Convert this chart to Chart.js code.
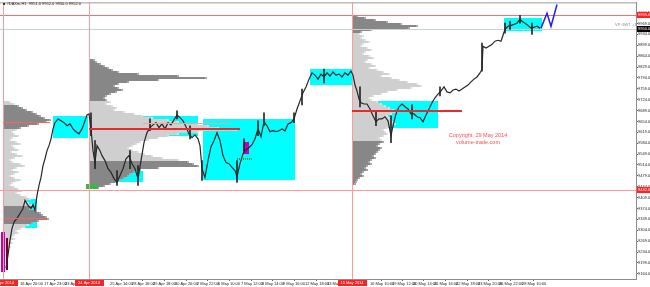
<!DOCTYPE html>
<html>
<head>
<meta charset="utf-8">
<script src="https://cdn.jsdelivr.net/npm/chart.js@4.4.0/dist/chart.umd.min.js"></script>
<style>
    html, body { margin: 0; padding: 0; background: #fff; overflow: hidden; }
    canvas { display: block; }
</style>
</head>
<body>
<canvas id="DaxChart" width="650" height="287"></canvas>
<script>
// #DAXm H1 - x is the bar slot, y is the price
var barX = [3, 5, 7, 9, 11, 14, 17, 20, 22, 25, 28, 30, 32, 34, 36, 38, 40, 42, 44, 46, 48, 50, 52, 55, 58, 61, 64, 67, 70, 73, 76, 79, 82, 84, 86,
    88, 90, 92, 94, 97, 99, 102, 105, 108, 111, 114, 117, 120, 123, 126, 129, 132, 135, 138, 141, 144, 147, 150, 153, 156, 159, 162, 165, 168, 171, 174, 177, 180, 183, 186, 189, 192, 195, 197,
    199, 202, 205, 208, 211, 214, 217, 220, 223, 226, 229, 232, 234, 237, 240, 243, 246, 249, 252, 255, 258, 261, 264, 267, 270, 273, 276, 279, 282, 285, 288, 291, 294, 297,
    300, 303, 306, 309, 312, 315, 318, 321, 324, 327, 330, 333, 336, 339, 342, 345, 348, 350, 352, 354, 356, 358, 361, 364, 367, 370, 373, 376, 379, 382, 385, 388, 390, 393, 396, 399,
    402, 405, 408, 411, 414, 417, 420, 423, 426, 429, 432, 435, 438, 441, 444, 447, 450, 453, 456, 459, 462, 465, 468, 471, 474, 477, 479, 480, 483, 486, 489, 492, 495, 498, 500,
    502, 505, 508, 511, 514, 517, 519, 522, 525, 528, 531, 534, 537];
var barClose = [9182, 9224, 9272, 9310, 9330, 9342, 9358, 9374, 9400, 9384, 9374, 9387, 9368, 9416, 9448, 9474, 9512, 9534, 9560, 9576, 9598, 9630, 9650, 9662, 9656, 9650, 9640, 9646, 9630, 9621, 9614, 9630, 9656, 9675, 9678,
    9630, 9560, 9522, 9576, 9560, 9544, 9528, 9502, 9490, 9470, 9458, 9480, 9502, 9534, 9544, 9518, 9502, 9470, 9528, 9586, 9618, 9634, 9643, 9650, 9634, 9646, 9630, 9650, 9643, 9659, 9675, 9666, 9656, 9637, 9614, 9602, 9611, 9598, 9576,
    9502, 9474, 9528, 9573, 9592, 9618, 9592, 9544, 9522, 9518, 9506, 9496, 9477, 9518, 9550, 9563, 9570, 9579, 9598, 9630, 9605, 9653, 9640, 9621, 9624, 9621, 9624, 9630, 9624, 9646, 9650, 9662, 9694, 9720,
    9746, 9765, 9790, 9810, 9803, 9790, 9806, 9797, 9810, 9800, 9813, 9803, 9806, 9797, 9810, 9803, 9816, 9803, 9771, 9752, 9726, 9714, 9710, 9710, 9694, 9672, 9653, 9662, 9662, 9669, 9656, 9608, 9640, 9678, 9701, 9710,
    9701, 9694, 9678, 9678, 9669, 9666, 9653, 9675, 9694, 9714, 9730, 9742, 9752, 9765, 9749, 9746, 9755, 9758, 9752, 9758, 9765, 9771, 9781, 9790, 9797, 9810, 9822, 9896, 9890, 9896, 9902, 9912, 9915, 9912, 9931,
    9950, 9960, 9963, 9966, 9970, 9982, 9976, 9970, 9963, 9954, 9957, 9960, 9954];

// long shadows
var wickX = [88, 92, 114, 127, 135, 147, 174, 187, 199, 234, 241, 255, 261, 291, 299, 321, 357, 373, 388, 409, 437, 479, 502, 507, 517, 529];
var wickLow = [9608, 9502, 9448, 9502, 9448, 9624, 9662, 9598, 9464, 9458, 9560, 9608, 9640, 9650, 9707, 9778, 9701, 9640, 9586, 9662, 9736, 9816, 9938, 9950, 9970, 9934];
var wickHigh = [9682, 9592, 9496, 9560, 9512, 9662, 9688, 9640, 9528, 9528, 9598, 9656, 9682, 9682, 9758, 9822, 9765, 9688, 9672, 9707, 9765, 9906, 9970, 9976, 9995, 9970];

// projection drawn by hand
var projX = [538, 544, 548, 554];
var projY = [9954, 10002, 9960, 10030];

// balance zones
var zoneFrom = [0, 50, 140, 112, 200, 307, 349, 501];
var zoneTo = [34, 85, 195, 140, 292, 357, 435, 539];
var zoneHigh = [9406, 9672, 9672, 9496, 9662, 9822, 9720, 9986];
var zoneLow = [9310, 9602, 9608, 9458, 9467, 9771, 9634, 9944];

// volume profiles, one value per 6.4 points from the top price down
var profStart = [0, 86, 349];
var profTop = [9720, 9854, 9995];
var profStep = 6.4;
var prof1Vol = [8, 12, 16, 20, 24, 30, 34, 38, 42, 48, 44, 36, 26, 18, 14, 10, 12, 16, 10, 8, 14, 18, 10, 12, 16, 9, 14, 20, 12, 8,
    10, 18, 22, 14, 10, 16, 12, 8, 12, 18, 14, 10, 8, 12, 16, 20, 14, 18, 24, 28, 22, 26, 30, 32, 28, 34, 38, 40, 44, 46,
    36, 30, 26, 22, 18, 14, 16, 12, 10, 12, 8, 10, 6, 8, 5, 4];
var prof2Vol = [6, 8, 12, 16, 20, 24, 30, 50, 90, 118, 70, 40, 30, 26, 30, 34, 28, 22, 18, 16, 18,
    22, 18, 24, 28, 26, 36, 46, 54, 64, 80, 90, 110, 120, 130, 148, 110, 90, 80, 70, 60, 52, 48, 44, 40, 44, 50, 56, 64, 74, 90,
    100, 105, 110, 70, 52, 46, 42, 40, 36, 32, 28, 22, 16, 10];
var prof3Vol = [6, 14, 24, 36, 50, 66, 58, 20, 10,
    8, 12, 10, 14, 18, 12, 10, 16, 20, 14, 12, 18, 22, 16, 14, 20, 24, 18,
    26, 32, 38, 30, 40, 48, 56, 66, 70, 60, 46, 36, 30, 22, 18,
    20, 26, 30, 34, 38, 42, 46, 40, 36,
    38, 40, 42, 44, 40, 36, 32, 34, 36, 32, 28, 30, 32, 28, 26, 30, 28, 26, 24, 22, 24, 20, 18, 20, 16, 14, 16, 12, 10, 12, 8, 6, 5, 4];
var profDark = [[[2, 13], [53, 61]], [[0, 20], [51, 64]], [[0, 8], [63, 84]]];

// levels and session lines
var levelPrices = [9995, 9950, 9432];
var levelLabels = ['9995.0', '9950.0', '9432.0'];
var sessionX = [0, 86, 349];
var sessionLabels = ['15 Apr 2014', '24 Apr 2014', '15 May 2014'];
var pocPrice = [9630, 9688, 9653, 9342, 9650];
var pocFrom = [86, 349, 0, 2, 140];
var pocTo = [237, 459, 47, 45, 227];

// axis ticks
var xTickPos = [17, 41, 62, 107, 129, 150, 172, 194, 215, 238, 259, 280, 302, 324, 367, 389, 410, 431, 453, 475, 496, 519];
var xTickLabels = ['16 Apr 20:00', '17 Apr 23:00', '23 Apr 01:00', '25 Apr 14:00', '28 Apr 16:00', '29 Apr 18:00', '30 Apr 20:00',
    '2 May 22:00', '6 May 10:00', '7 May 12:00', '8 May 14:00', '9 May 16:00', '12 May 18:00', '13 May 20:00', '16 May 10:00',
    '19 May 12:00', '20 May 14:00', '21 May 16:00', '22 May 18:00', '23 May 20:00', '26 May 22:00', '28 May 10:00'];
var yTickValues = [10004, 9969, 9934, 9899, 9864, 9829, 9794, 9759, 9724, 9689, 9654, 9619, 9584, 9549, 9514, 9479, 9444,
    9409, 9374, 9339, 9304, 9269, 9234, 9199, 9164];

var tinyFont = 'Liberation Sans';

function box(c, xs, ys, x0, x1, hi, lo, color) {
    var l = Math.round(xs.getPixelForValue(x0));
    var r = Math.round(xs.getPixelForValue(x1));
    var t = Math.round(ys.getPixelForValue(hi));
    var b = Math.round(ys.getPixelForValue(lo));
    c.fillStyle = color;
    c.fillRect(l, t, r - l, b - t);
}

function hLine(c, xs, ys, price, x0, x1, color, width) {
    var y = Math.round(ys.getPixelForValue(price)) + (width % 2 ? 0.5 : 0);
    c.strokeStyle = color;
    c.lineWidth = width;
    c.beginPath();
    c.moveTo(xs.getPixelForValue(x0), y);
    c.lineTo(xs.getPixelForValue(x1), y);
    c.stroke();
}

var overlay = {
    id: 'overlay',
    beforeDatasetsDraw: function (chart) {
        var c = chart.ctx, xs = chart.scales.x, ys = chart.scales.y, a = chart.chartArea;
        c.save();
        c.beginPath();
        c.rect(a.left, a.top, a.right - a.left, a.bottom - a.top);
        c.clip();

        for (var i = 0; i < zoneFrom.length; i++) {
            box(c, xs, ys, zoneFrom[i], zoneTo[i], zoneHigh[i], zoneLow[i], '#00ffff');
        }

        //profiles
        var profs = [prof1Vol, prof2Vol, prof3Vol];
        profs.forEach(function (vols, p) {
            vols.forEach(function (v, k) {
                var dark = profDark[p].some(function (r) { return k >= r[0] && k <= r[1]; });
                var hi = profTop[p] - k * profStep;
                var l = Math.round(xs.getPixelForValue(profStart[p]));
                var r = Math.round(xs.getPixelForValue(profStart[p] + v));
                var t = Math.round(ys.getPixelForValue(hi));
                c.fillStyle = dark ? '#878787' : '#cfcfcf';
                c.fillRect(l, t, r - l, 2);
                // lighter tip
                c.fillStyle = dark ? '#a8a8a8' : '#e0e0e0';
                c.fillRect(r - 2, t, 2, 2);
            });
        });

        // markers
        box(c, xs, ys, -2, 2, 9298, 9170, '#c000c0');
        box(c, xs, ys, 3, 5, 9278, 9176, '#7a0018');
        box(c, xs, ys, 83, 95, 9454, 9438, '#3cb44b');
        box(c, xs, ys, 240, 246, 9589, 9550, '#c000c0');
        c.setLineDash([1, 1]);
        hLine(c, xs, ys, 9534, 234, 250, '#2e8b3a', 2);
        c.setLineDash([]);

        // levels
        var levelColors = ['#ff6a6a', '#cfcfcf', '#ff9a9a'];
        levelPrices.forEach(function (p, i) {
            hLine(c, xs, ys, p, xs.min, xs.max, levelColors[i], 1);
        });
        c.strokeStyle = '#ff9a9a';
        c.lineWidth = 1;
        sessionX.forEach(function (x) {
            var px = Math.round(xs.getPixelForValue(x)) + 0.5;
            c.beginPath();
            c.moveTo(px, a.top);
            c.lineTo(px, a.bottom);
            c.stroke();
        });
        c.restore();
    },
    afterDatasetsDraw: function (chart) {
        var c = chart.ctx, xs = chart.scales.x, ys = chart.scales.y, a = chart.chartArea;
        c.save();
        var pocColors = ['#e52b2b', '#e52b2b', '#ff6060', '#ff6060', '#f2a0a0'];
        var pocWidths = [2, 2, 1, 1, 1];
        pocPrice.forEach(function (p, i) {
            hLine(c, xs, ys, p, pocFrom[i], pocTo[i], pocColors[i], pocWidths[i]);
        });
        // top frame
        c.strokeStyle = '#9a9a9a';
        c.lineWidth = 1;
        c.beginPath();
        c.moveTo(a.left, a.top + 0.5);
        c.lineTo(a.right, a.top + 0.5);
        c.stroke();
        c.restore();
    },
    afterDraw: function (chart) {
        var c = chart.ctx, xs = chart.scales.x, ys = chart.scales.y, a = chart.chartArea;
        c.save();
        c.textBaseline = 'middle';

        // price tags on the right scale
        var tagColors = ['#ff2020', '#000000', '#ff2020'];
        levelPrices.forEach(function (p, i) {
            var y = Math.round(ys.getPixelForValue(p));
            c.fillStyle = tagColors[i];
            c.fillRect(a.right + 1, y - 3, 14, 6);
            c.fillStyle = '#fff';
            c.font = '4px ' + tinyFont;
            c.textAlign = 'left';
            c.fillText(levelLabels[i], a.right + 2, y);
        });

        // session tags on the time scale
        sessionX.forEach(function (x, i) {
            var px = Math.round(xs.getPixelForValue(x));
            c.fillStyle = '#ff2020';
            c.fillRect(px - 14, a.bottom + 1, 29, 6);
            c.fillStyle = '#fff';
            c.font = '4px ' + tinyFont;
            c.textAlign = 'center';
            c.fillText(sessionLabels[i], px, a.bottom + 4);
        });

        c.textAlign = 'left';
        c.fillStyle = '#222';
        c.font = '4px ' + tinyFont;
        c.fillText('\u25A0 #DAXm,H1  9951.0 9952.0 9950.0 9952.0', 3, 4);

        c.fillStyle = '#8a8a8a';
        c.fillText('VP GWT +1', 615, Math.round(ys.getPixelForValue(9963)));

        c.fillStyle = '#ff4d4d';
        c.font = '5.5px ' + tinyFont;
        c.textAlign = 'center';
        c.fillText('Copyright, 29 May 2014', 478, 135);
        c.fillText('volume-trade.com', 478, 142);
        c.restore();
    }
};

var ctx = document.getElementById('DaxChart');

var chart = new Chart(ctx, {
    type: 'line',
    data: {
        datasets: [{
            type: 'line',
            data: projX.map(function (x, i) { return { x: x, y: projY[i] }; }),
            borderColor: '#1f1fff',
            borderWidth: 1.5,
            pointRadius: 0,
            tension: 0
        }, {
            type: 'line',
            data: barX.map(function (x, i) { return { x: x, y: barClose[i] }; }),
            borderColor: '#262626',
            borderWidth: 1.2,
            pointRadius: 0,
            tension: 0
        }, {
            type: 'bar',
            data: wickX.map(function (x, i) { return { x: x, y: [wickLow[i], wickHigh[i]] }; }),
            backgroundColor: '#262626',
            barThickness: 1
        }]
    },
    options: {
        responsive: false,
        animation: false,
        devicePixelRatio: 1,
        layout: { padding: { top: 1, left: 0, right: 0, bottom: 0 } },
        plugins: {
            legend: { display: false },
            tooltip: { enabled: false }
        },
        scales: {
            x: {
                type: 'linear',
                min: -3,
                max: 633,
                offset: false,
                grid: { drawOnChartArea: false, drawTicks: true, tickLength: 2, color: '#666' },
                border: { color: '#8c8c8c' },
                afterBuildTicks: function (scale) {
                    scale.ticks = xTickPos.map(function (v) { return { value: v }; });
                },
                afterFit: function (scale) { scale.height = 8; },
                ticks: {
                    autoSkip: false,
                    maxRotation: 0,
                    align: 'start',
                    padding: 0,
                    color: '#222',
                    font: { size: 4, family: tinyFont },
                    callback: function (v, i) { return xTickLabels[i]; }
                }
            },
            y: {
                position: 'right',
                min: 9147.2,
                max: 10036.8,
                grid: { drawOnChartArea: false, drawTicks: true, tickLength: 2, color: '#666' },
                border: { color: '#8c8c8c' },
                afterBuildTicks: function (scale) {
                    scale.ticks = yTickValues.map(function (v) { return { value: v }; });
                },
                afterFit: function (scale) { scale.width = 14; },
                ticks: {
                    padding: 0,
                    color: '#222',
                    font: { size: 4, family: tinyFont },
                    callback: function (v) { return v.toFixed(1); }
                }
            }
        }
    },
    plugins: [overlay]
});
</script>
</body>
</html>
